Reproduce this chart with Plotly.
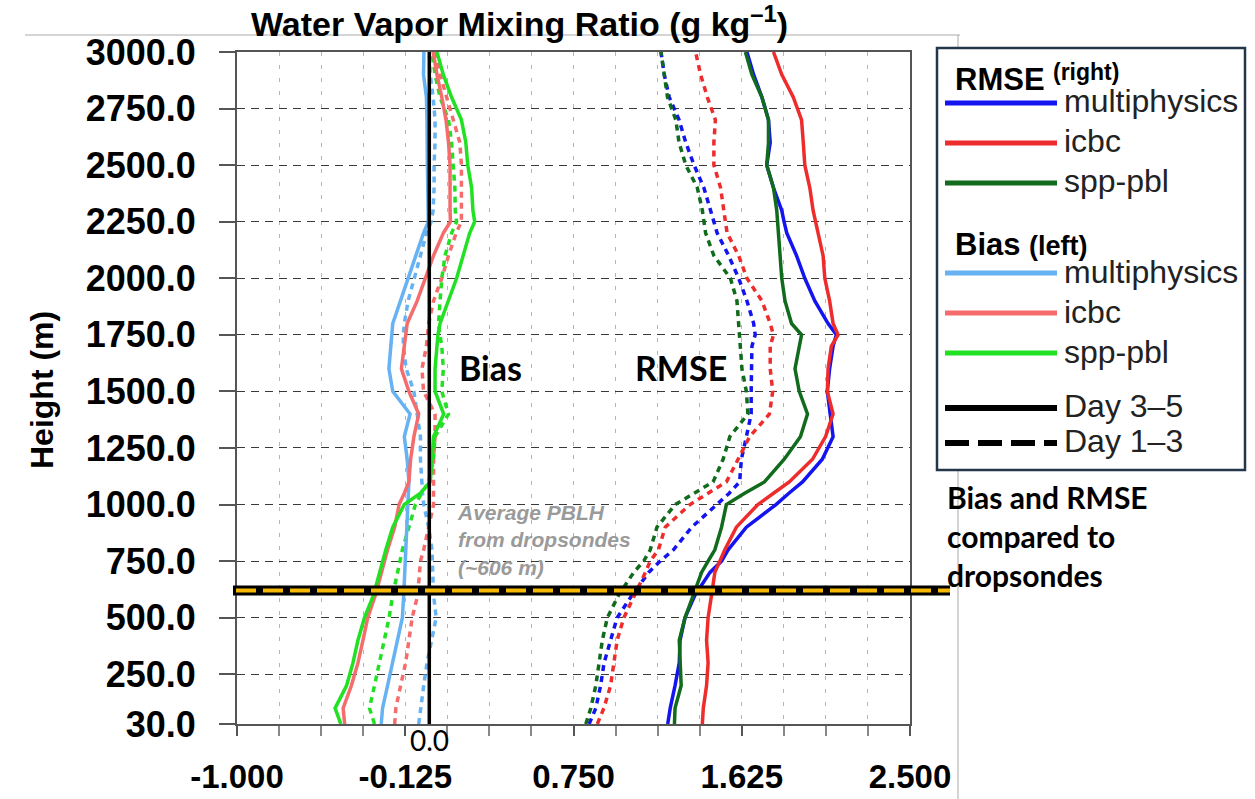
import plotly.graph_objects as go

# ---------------- data ----------------
heights = [30, 100, 200, 300, 400, 500, 600, 700, 750, 800, 900, 1000, 1050, 1100,
           1200, 1300, 1400, 1500, 1600, 1700, 1750, 1800, 1900, 2000, 2100, 2200,
           2250, 2300, 2400, 2500, 2600, 2700, 2800, 2900, 3000]

# Bias (left group) -- Day 3-5 solid, Day 1-3 dotted
bias_multi_d35 = [-0.25, -0.243, -0.217, -0.19, -0.166, -0.14, -0.133, -0.128, -0.123, -0.123,
                  -0.118, -0.115, -0.11, -0.106, -0.115, -0.13, -0.1, -0.19, -0.21, -0.2,
                  -0.195, -0.19, -0.15, -0.11, -0.07, -0.03, -0.005, -0.005, -0.008, -0.01,
                  -0.01, -0.012, -0.015, -0.03, -0.028]
bias_multi_d13 = [-0.055, -0.046, -0.029, -0.012, 0.014, 0.036, 0.022, 0.02, 0.019, 0.014,
                  -0.003, -0.029, -0.035, -0.038, -0.046, -0.046, -0.063, -0.08, -0.12, -0.135,
                  -0.135, -0.13, -0.11, -0.08, -0.046, -0.015, 0.01, 0.02, 0.025, 0.025,
                  0.03, 0.03, 0.02, 0.005, 0.0]
bias_icbc_d35 = [-0.44, -0.448, -0.405, -0.371, -0.345, -0.32, -0.28, -0.25, -0.236, -0.217,
                 -0.18, -0.157, -0.13, -0.106, -0.097, -0.08, -0.055, -0.106, -0.145, -0.13,
                 -0.125, -0.115, -0.063, -0.02, 0.022, 0.073, 0.11, 0.108, 0.108, 0.108,
                 0.10, 0.087, 0.065, 0.04, 0.02]
bias_icbc_d13 = [-0.18, -0.174, -0.149, -0.123, -0.106, -0.089, -0.06, -0.05, -0.046, -0.029,
                 -0.003, 0.022, 0.022, 0.022, 0.022, 0.03, 0.03, -0.03, -0.038, -0.015,
                 -0.01, -0.003, 0.022, 0.065, 0.1, 0.14, 0.167, 0.167, 0.167, 0.167,
                 0.159, 0.125, 0.09, 0.056, 0.03]
bias_spp_d35 = [-0.46, -0.49, -0.43, -0.397, -0.371, -0.337, -0.29, -0.26, -0.243, -0.226,
                -0.19, -0.13, -0.046, 0.005, 0.014, 0.022, 0.075, 0.03, 0.03, 0.04,
                0.045, 0.056, 0.1, 0.142, 0.176, 0.21, 0.236, 0.227, 0.22, 0.2,
                0.19, 0.167, 0.116, 0.073, 0.04]
bias_spp_d13 = [-0.285, -0.311, -0.285, -0.26, -0.234, -0.209, -0.19, -0.165, -0.157, -0.14,
                -0.106, -0.072, -0.04, -0.003, 0.022, 0.03, 0.1, 0.065, 0.073, 0.065,
                0.055, 0.048, 0.056, 0.065, 0.082, 0.116, 0.142, 0.135, 0.133, 0.125,
                0.116, 0.1, 0.056, 0.03, 0.014]

# RMSE (right group)
rmse_multi_d35 = [1.24, 1.253, 1.278, 1.30, 1.304, 1.33, 1.382, 1.46, 1.52, 1.554,
                  1.649, 1.803, 1.87, 1.941, 2.044, 2.1, 2.085, 2.07, 2.082, 2.1,
                  2.117, 2.074, 2.005, 1.953, 1.91, 1.859, 1.845, 1.833, 1.79, 1.755,
                  1.773, 1.764, 1.73, 1.687, 1.652]
rmse_multi_d13 = [0.831, 0.866, 0.891, 0.909, 0.943, 0.977, 1.055, 1.141, 1.201, 1.27,
                  1.365, 1.494, 1.56, 1.614, 1.623, 1.649, 1.674, 1.674, 1.678, 1.678,
                  1.695, 1.687, 1.652, 1.609, 1.557, 1.497, 1.48, 1.463, 1.428, 1.377,
                  1.334, 1.299, 1.248, 1.222, 1.205]
rmse_icbc_d35 = [1.42, 1.425, 1.442, 1.45, 1.442, 1.45, 1.468, 1.485, 1.511, 1.537,
                 1.597, 1.709, 1.79, 1.872, 1.993, 2.061, 2.1, 2.07, 2.074, 2.091,
                 2.126, 2.1, 2.082, 2.057, 2.048, 2.022, 2.01, 1.996, 1.979, 1.953,
                 1.945, 1.936, 1.893, 1.833, 1.79]
rmse_icbc_d13 = [0.874, 0.908, 0.943, 0.96, 0.977, 1.012, 1.07, 1.124, 1.149, 1.192,
                 1.227, 1.356, 1.45, 1.545, 1.606, 1.666, 1.769, 1.786, 1.773, 1.773,
                 1.79, 1.773, 1.73, 1.652, 1.609, 1.549, 1.54, 1.532, 1.515, 1.48,
                 1.48, 1.488, 1.446, 1.411, 1.385]
rmse_spp_d35 = [1.275, 1.278, 1.31, 1.304, 1.3, 1.33, 1.373, 1.416, 1.45, 1.485,
                1.52, 1.545, 1.64, 1.743, 1.846, 1.93, 1.967, 1.924, 1.902, 1.927,
                1.936, 1.884, 1.85, 1.833, 1.824, 1.812, 1.81, 1.807, 1.79, 1.755,
                1.764, 1.764, 1.73, 1.678, 1.644]
rmse_spp_d13 = [0.814, 0.84, 0.866, 0.883, 0.9, 0.926, 0.985, 1.063, 1.115, 1.149,
                1.184, 1.279, 1.38, 1.476, 1.528, 1.563, 1.657, 1.649, 1.626, 1.618,
                1.61, 1.606, 1.6, 1.566, 1.48, 1.437, 1.43, 1.42, 1.394, 1.334,
                1.299, 1.282, 1.239, 1.222, 1.205]

x_tick_vals = [-1.0, -0.125, 0.75, 1.625, 2.5]
x_tick_text = ["-1.000", "-0.125", "0.750", "1.625", "2.500"]
y_tick_vals = [30, 250, 500, 750, 1000, 1250, 1500, 1750, 2000, 2250, 2500, 2750, 3000]
y_tick_text = ["30.0", "250.0", "500.0", "750.0", "1000.0", "1250.0", "1500.0", "1750.0",
               "2000.0", "2250.0", "2500.0", "2750.0", "3000.0"]
zero_ref = 0.0
pblh_height = 620

series_names = ["multiphysics", "icbc", "spp-pbl"]
rmse_colors = ["#1414f0", "#ee2c2c", "#116b1c"]
bias_colors = ["#66b2f2", "#f56c6c", "#22e022"]

# ---------------- figure ----------------
FW, FH = 1255, 799
L, R, T, B = 237, 910, 52, 724
PW, PH = R - L, B - T


def px(xp):
    return (xp - L) / PW


def py(yp):
    return (B - yp) / PH


fig = go.Figure()
DOT = "6px,5px"

bias_sets = [(bias_multi_d35, bias_multi_d13), (bias_icbc_d35, bias_icbc_d13),
             (bias_spp_d35, bias_spp_d13)]
rmse_sets = [(rmse_multi_d35, rmse_multi_d13), (rmse_icbc_d35, rmse_icbc_d13),
             (rmse_spp_d35, rmse_spp_d13)]

for (s, d), c, n in zip(bias_sets, bias_colors, series_names):
    fig.add_trace(go.Scatter(x=d, y=heights, mode="lines", name=f"Bias {n} Day 1-3",
                             line=dict(color=c, width=3.5, dash=DOT), showlegend=False))
for (s, d), c, n in zip(rmse_sets, rmse_colors, series_names):
    fig.add_trace(go.Scatter(x=d, y=heights, mode="lines", name=f"RMSE {n} Day 1-3",
                             line=dict(color=c, width=3.5, dash=DOT), showlegend=False))
for (s, d), c, n in zip(bias_sets, bias_colors, series_names):
    fig.add_trace(go.Scatter(x=s, y=heights, mode="lines", name=f"Bias {n} Day 3-5",
                             line=dict(color=c, width=3.5), showlegend=False))
for (s, d), c, n in zip(rmse_sets, rmse_colors, series_names):
    fig.add_trace(go.Scatter(x=s, y=heights, mode="lines", name=f"RMSE {n} Day 3-5",
                             line=dict(color=c, width=3.5), showlegend=False))

shapes = []
# zero line
shapes.append(dict(type="line", xref="x", yref="paper", x0=zero_ref, x1=zero_ref, y0=0, y1=1,
                   line=dict(color="black", width=3.5), layer="above"))
# PBLH line
shapes.append(dict(type="line", xref="paper", yref="y", x0=px(233), x1=px(950),
                   y0=pblh_height, y1=pblh_height, line=dict(color="black", width=10), layer="above"))
shapes.append(dict(type="line", xref="paper", yref="y", x0=px(236), x1=px(950),
                   y0=pblh_height, y1=pblh_height,
                   line=dict(color="#f6b800", width=4, dash="20px,7px"), layer="above"))
# page artefact lines
shapes.append(dict(type="line", xref="paper", yref="paper", x0=px(25), x1=px(960),
                   y0=py(35), y1=py(35), line=dict(color="#aaaaaa", width=1)))
shapes.append(dict(type="line", xref="paper", yref="paper", x0=px(958), x1=px(958),
                   y0=py(35), y1=py(799), line=dict(color="#aaaaaa", width=1)))
# legend box
shapes.append(dict(type="rect", xref="paper", yref="paper", x0=px(937), x1=px(1245),
                   y0=py(470), y1=py(48), line=dict(color="#23364a", width=2.5),
                   fillcolor="white"))

ann = []
LEG_FONT = "Liberation Sans, Arial, sans-serif"
lx0, lx1, tx = px(945), px(1057), px(1062)


def leg_line(ypix, color, dash=None, width=5):
    d = dict(type="line", xref="paper", yref="paper", x0=lx0, x1=lx1, y0=py(ypix), y1=py(ypix),
             line=dict(color=color, width=width))
    if dash:
        d["line"]["dash"] = dash
    shapes.append(d)


def leg_text(ypix, text):
    ann.append(dict(xref="paper", yref="paper", x=tx, y=py(ypix), text=text, showarrow=False,
                    xanchor="left", yanchor="middle",
                    font=dict(family=LEG_FONT, size=32, color="#222")))


ann.append(dict(xref="paper", yref="paper", x=px(953), y=py(80), text="<b>RMSE</b>",
                showarrow=False, xanchor="left", yanchor="middle",
                font=dict(family=LEG_FONT, size=31, color="black")))
ann.append(dict(xref="paper", yref="paper", x=px(1051), y=py(72), text="<b>(right)</b>",
                showarrow=False, xanchor="left", yanchor="middle",
                font=dict(family=LEG_FONT, size=23, color="black")))
for ypix, c, n in zip([103, 143, 183], rmse_colors, series_names):
    leg_line(ypix, c)
    leg_text(ypix - 2, n)
ann.append(dict(xref="paper", yref="paper", x=px(953), y=py(244),
                text="<b>Bias</b> <b><span style='font-size:27px'>(left)</span></b>",
                showarrow=False, xanchor="left", yanchor="middle",
                font=dict(family=LEG_FONT, size=31, color="black")))
for ypix, c, n in zip([273, 313, 353], bias_colors, series_names):
    leg_line(ypix, c)
    leg_text(ypix - 1, n)
leg_line(408, "black", width=6)
leg_text(406, "Day 3–5")
leg_line(443, "black", dash="24px,9px", width=6)
leg_text(441, "Day 1–3")

# notes
ann.append(dict(xref="paper", yref="paper", x=px(945), y=py(536),
                text="<b>Bias and RMSE<br>compared to<br>dropsondes</b>", showarrow=False,
                xanchor="left", yanchor="middle", align="left",
                font=dict(family="Lato, sans-serif", size=30, color="black")))
ann.append(dict(xref="x", yref="paper", x=zero_ref, y=py(740), text="0.0", showarrow=False,
                xanchor="center", yanchor="middle",
                font=dict(family="Lato, sans-serif", size=28, color="black")))
ann.append(dict(xref="paper", yref="paper", x=px(490), y=py(367), text="<b>Bias</b>",
                showarrow=False, xanchor="center", yanchor="middle",
                font=dict(family="Lato, sans-serif", size=34, color="black")))
ann.append(dict(xref="paper", yref="paper", x=px(681), y=py(367), text="<b>RMSE</b>",
                showarrow=False, xanchor="center", yanchor="middle",
                font=dict(family="Lato, sans-serif", size=34, color="black")))
ann.append(dict(xref="paper", yref="paper", x=px(455), y=py(540),
                text="<b><i>Average PBLH<br>from dropsondes<br>(~606 m)</i></b>", showarrow=False,
                xanchor="left", yanchor="middle", align="left",
                font=dict(family=LEG_FONT, size=21, color="#9a9a9a")))
# title and y-axis title
ann.append(dict(xref="paper", yref="paper", x=px(519), y=py(21),
                text="<b>Water Vapor Mixing Ratio (g kg<sup>–1</sup>)</b>", showarrow=False,
                xanchor="center", yanchor="middle",
                font=dict(family=LEG_FONT, size=34, color="black")))
ann.append(dict(xref="paper", yref="paper", x=px(42), y=py(390), text="<b>Height (m)</b>",
                showarrow=False, textangle=-90, xanchor="center", yanchor="middle",
                font=dict(family=LEG_FONT, size=32, color="black")))

fig.update_layout(
    width=FW, height=FH, margin=dict(l=L, r=FW - R, t=T, b=FH - B, autoexpand=False),
    plot_bgcolor="white", paper_bgcolor="white", showlegend=False,
    shapes=shapes, annotations=ann,
)
fig.update_xaxes(
    automargin=False,
    range=[-1.0, 2.5], tickmode="array", tickvals=x_tick_vals, ticktext=x_tick_text,
    tickfont=dict(family=LEG_FONT, size=33, color="black", weight="bold"),
    ticks="outside", ticklen=10, tickcolor="#555", tickwidth=1.5, ticklabelstandoff=12,
    showline=True, linecolor="#555", linewidth=2, mirror=True,
    showgrid=True, gridcolor="#b5b5b5", gridwidth=1, griddash="4px,9px",
    minor=dict(dtick=0.21875, tick0=-1.0, showgrid=True, gridcolor="#b5b5b5", gridwidth=1,
               griddash="4px,9px", ticks="outside", ticklen=10, tickcolor="#888"),
    zeroline=False,
)
fig.update_yaxes(
    automargin=False,
    range=[30, 3000], tickmode="array", tickvals=y_tick_vals, ticktext=y_tick_text,
    tickfont=dict(family=LEG_FONT, size=36, color="black", weight="bold"),
    ticks="outside", ticklen=16, tickcolor="#555", tickwidth=1.5, ticklabelstandoff=16,
    showline=True, linecolor="#555", linewidth=2, mirror=True,
    showgrid=True, gridcolor="#3a3a3a", gridwidth=1.2, griddash="8px,6px",
    zeroline=False,
)

fig.write_html("out.html")
